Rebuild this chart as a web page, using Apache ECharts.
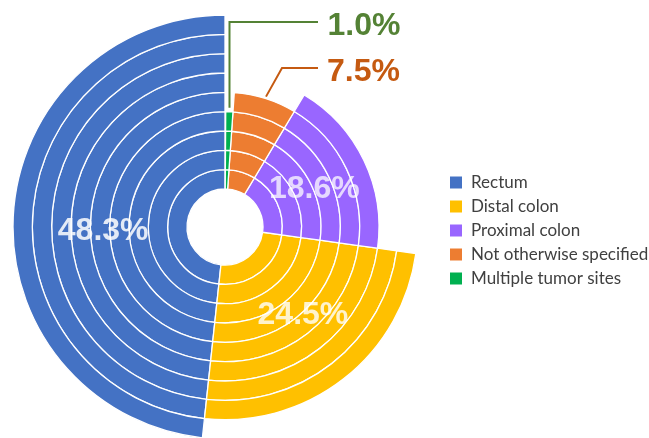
<!DOCTYPE html>
<html>
<head>
<meta charset="utf-8">
<script src="https://cdn.jsdelivr.net/npm/echarts@6/dist/echarts.min.js"></script>
<style>html,body{margin:0;padding:0;background:#fff;}#c{width:649px;height:438px;}</style>
</head>
<body>
<div id="c"></div>
<script>
// ---- data ----
const categories = ['Rectum', 'Distal colon', 'Proximal colon', 'Not otherwise specified', 'Multiple tumor sites'];
const shares = [48.3, 24.5, 18.6, 7.5, 1.0];
const ringCounts = [9, 8, 6, 5, 4];
const ringLevels = ['1', '2', '3', '4', '5', '6', '7', '8', '9'];

// ---- style ----
const colors = ['#4472C4', '#FFC000', '#9966FF', '#ED7D31', '#00B050'];
const CX = 225, CY = 227, R0 = 38, R1 = 212;
const ringW = (R1 - R0) / ringLevels.length;
const labelCfg = [
  { ring: 4, color: 'rgba(255,255,255,0.85)', offset: [3, 11] },
  { ring: 4, color: 'rgba(255,255,255,0.8)', offset: [1, -10] },
  { ring: 3, color: 'rgba(255,255,255,0.75)', offset: [-6, 8] },
  { ring: 4, color: '#C55A11', offset: [101, -36] },
  { ring: 3, color: '#548235', offset: [135, -95] }
];

const series = categories.map((name, s) => ({
  type: 'bar',
  name: name,
  coordinateSystem: 'polar',
  stack: 'all',
  barCategoryGap: '0%',
  itemStyle: { color: colors[s], borderColor: '#fff', borderWidth: 1.3 },
  emphasis: { disabled: true },
  data: ringLevels.map((lvl, i) => {
    if (i >= ringCounts[s]) return '-';
    const item = { value: shares[s] };
    if (i === labelCfg[s].ring) {
      item.label = {
        show: true, position: 'middle', rotate: 0,
        formatter: shares[s].toFixed(1) + '%',
        color: labelCfg[s].color,
        fontFamily: 'Liberation Sans, Arial, sans-serif',
        fontWeight: 'bold', fontSize: 32,
        offset: labelCfg[s].offset
      };
    }
    return item;
  })
}));

const chart = echarts.init(document.getElementById('c'), null, { renderer: 'canvas' });

function pt(rPx, pct) {
  const a = (90 + pct * 3.6) * Math.PI / 180;
  return [CX + rPx * Math.cos(a), CY - rPx * Math.sin(a)];
}
let cum = [];
shares.reduce((acc, v, i) => { cum[i] = acc + v / 2; return acc + v; }, 0);
const gStart = pt(R0 + ringCounts[4] * ringW + 4, cum[4]);
const oStart = pt(R0 + ringCounts[3] * ringW + 2, cum[3]);

chart.setOption({
  animation: false,
  polar: { center: [CX, CY], radius: [R0, R1] },
  angleAxis: { type: 'value', min: 0, max: 100, startAngle: 90, clockwise: false, show: false },
  radiusAxis: { type: 'category', data: ringLevels, show: false },
  legend: {
    orient: 'vertical', left: 448, top: 174, padding: 0,
    icon: 'rect', itemWidth: 14, itemHeight: 14, itemGap: 7,
    textStyle: { fontFamily: 'Lato, sans-serif', fontSize: 17, lineHeight: 14, color: '#404040', padding: [0, 0, 0, 3] },
    data: categories
  },
  series: series,
  graphic: [
    { type: 'polyline', silent: true, shape: { points: [gStart, [gStart[0], 22], [318, 22]] },
      style: { stroke: '#548235', lineWidth: 2, fill: null } },
    { type: 'polyline', silent: true, shape: { points: [oStart, [282, 68], [318, 68]] },
      style: { stroke: '#C55A11', lineWidth: 2, fill: null } }
  ]
});
</script>
</body>
</html>
